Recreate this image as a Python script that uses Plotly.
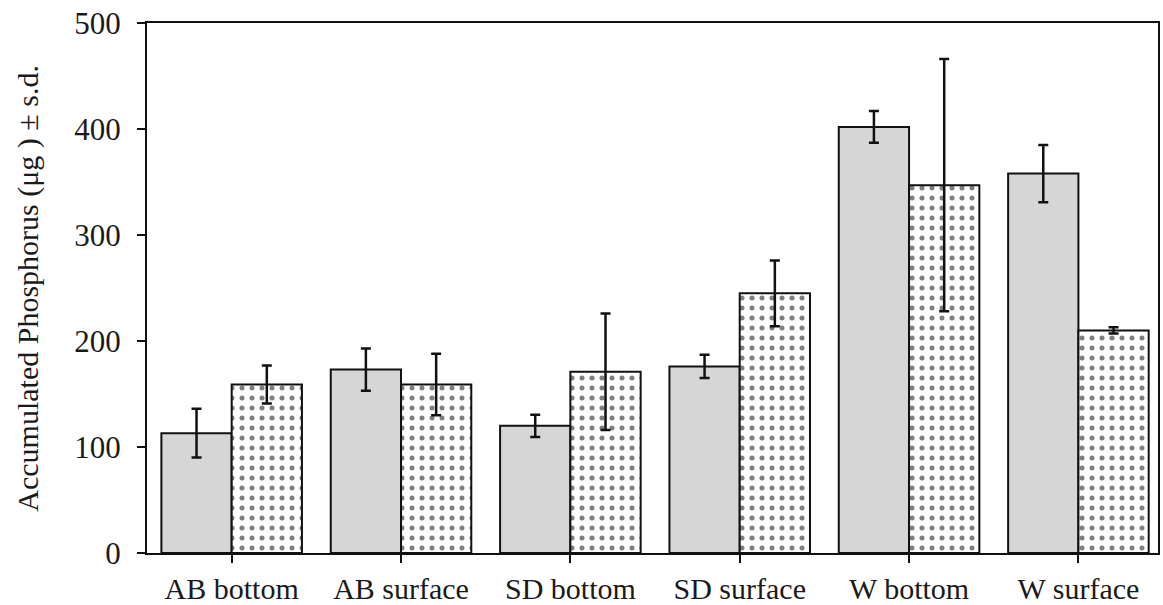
import plotly.graph_objects as go

categories = ["AB bottom", "AB surface", "SD bottom", "SD surface", "W bottom", "W surface"]
gray_values = [113, 173, 120, 176, 402, 358]
gray_sd = [23, 20, 10.5, 11, 15, 27]
dotted_values = [159, 159, 171, 245, 347, 210]
dotted_sd = [18, 29, 55, 31, 119, 3]
y_ticks = [0, 100, 200, 300, 400, 500]

font_family = "Liberation Serif"

fig = go.Figure()
fig.add_trace(go.Bar(
    x=categories, y=gray_values,
    marker=dict(color="#d6d6d6", line=dict(color="#111111", width=2)),
    error_y=dict(type="data", array=gray_sd, visible=True, color="#111111", thickness=2.5, width=5),
    showlegend=False,
))
fig.add_trace(go.Bar(
    x=categories, y=dotted_values,
    marker=dict(color="white", line=dict(color="#111111", width=2),
                pattern=dict(shape=".", fgcolor="#000000", bgcolor="white", size=10, solidity=0.2,
                             fillmode="overlay")),
    error_y=dict(type="data", array=dotted_sd, visible=True, color="#111111", thickness=2.5, width=5),
    showlegend=False,
))

fig.update_layout(
    width=1163, height=605,
    margin=dict(l=147, r=5, t=23, b=52, autoexpand=False),
    paper_bgcolor="white", plot_bgcolor="white",
    barmode="group", bargap=0.17, bargroupgap=0,
    font=dict(family=font_family, color="#1a1a1a"),
    xaxis=dict(
        range=[-0.5, 5.47], showline=True, linecolor="#111111", linewidth=2, mirror=True,
        ticks="outside", ticklen=8, tickwidth=2, tickcolor="#111111",
        tickfont=dict(size=30, family=font_family, color="#1a1a1a"),
        ticklabelstandoff=0,
        showgrid=False, zeroline=False, automargin=False,
    ),
    yaxis=dict(
        range=[0, 500], tickvals=y_ticks, showline=True, linecolor="#111111", linewidth=2, mirror=True,
        ticks="outside", ticklen=8, tickwidth=2, tickcolor="#111111",
        tickfont=dict(size=31, family=font_family, color="#1a1a1a"),
        ticklabelstandoff=10,
        showgrid=False, zeroline=False, automargin=False,
    ),
    annotations=[dict(
        text="Accumulated Phosphorus (\u03bcg ) \u00b1 s.d.",
        xref="paper", yref="paper", x=-0.118, y=0.5,
        textangle=-90, showarrow=False, xanchor="center", yanchor="middle",
        font=dict(size=30, family=font_family, color="#1a1a1a"),
    )],
)

fig.write_html("out.html")
